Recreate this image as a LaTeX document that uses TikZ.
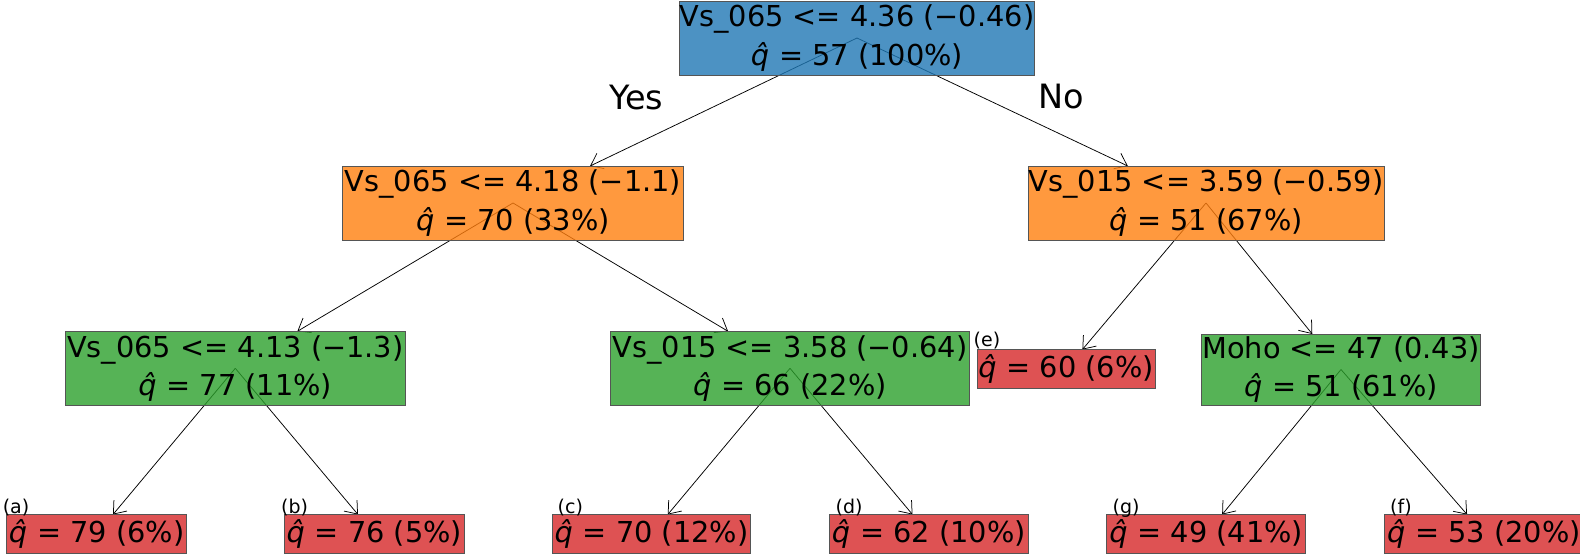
\documentclass[tikz,border=0pt]{standalone}
\usepackage{fontspec}
\setmainfont{DejaVu Sans}
\usetikzlibrary{arrows.meta}
\definecolor{cblue}{HTML}{1F77B4}
\definecolor{corange}{HTML}{FF7F0E}
\definecolor{cgreen}{HTML}{2CA02C}
\definecolor{cred}{HTML}{D62728}
\definecolor{cborder}{HTML}{555555}
\pgfdeclarelayer{bg}
\pgfsetlayers{bg,main}
\newcommand{\qh}{\textit{\^{q}}}
\tikzset{
  box/.style={draw=cborder, line width=0.9pt, fill opacity=0.8, text opacity=1,
    inner sep=0pt, outer sep=0pt, align=center,
    font=\fontsize{28.8}{38.4}\selectfont},
  split/.style={box, minimum height=74pt},
  leaf/.style={box, fill=cred, minimum height=39pt},
  edge/.style={-{Straight Barb[length=11pt,width=17pt]}, line width=0.75pt},
  lab/.style={anchor=base west, inner sep=0pt, font=\fontsize{19}{19}\selectfont},
  yesno/.style={anchor=base west, inner sep=0pt, font=\fontsize{33.5}{33.5}\selectfont}
}
\begin{document}
\begin{tikzpicture}[x=1pt,y=-1pt]
\useasboundingbox (0,0) rectangle (1580,558);
% split nodes
\node[split, fill=cblue, minimum width=351pt] (root) at (857,38) {Vs\_065 <= 4.36 (−0.46)\\\qh{} = 57 (100\%)};
\node[split, fill=corange, minimum width=341pt] (l1) at (513,203) {Vs\_065 <= 4.18 (−1.1)\\\qh{} = 70 (33\%)};
\node[split, fill=corange, minimum width=356pt] (r1) at (1206,203) {Vs\_015 <= 3.59 (−0.59)\\\qh{} = 51 (67\%)};
\node[split, fill=cgreen, minimum width=340pt] (l2) at (235.3,368.3) {Vs\_065 <= 4.13 (−1.3)\\\qh{} = 77 (11\%)};
\node[split, fill=cgreen, minimum width=359pt] (m2) at (790,368.3) {Vs\_015 <= 3.58 (−0.64)\\\qh{} = 66 (22\%)};
\node[box, fill=cgreen, minimum width=279pt, minimum height=71pt] (moho) at (1341,369.5) {Moho <= 47 (0.43)\\\qh{} = 51 (61\%)};
% leaves
\node[leaf, minimum width=178pt] (e) at (1066,369) {\qh{} = 60 (6\%)};
\node[leaf, minimum width=180pt] (a) at (96.7,534) {\qh{} = 79 (6\%)};
\node[leaf, minimum width=180pt] (b) at (374.3,534) {\qh{} = 76 (5\%)};
\node[leaf, minimum width=198.4pt] (c) at (651.5,534) {\qh{} = 70 (12\%)};
\node[leaf, minimum width=199pt] (d) at (928.8,534) {\qh{} = 62 (10\%)};
\node[leaf, minimum width=199pt] (g) at (1206.2,534) {\qh{} = 49 (41\%)};
\node[leaf, minimum width=199pt] (f) at (1484,534) {\qh{} = 53 (20\%)};
% leaf labels
\node[lab] (la) at (2.6,513) {(a)};
\node[lab] (lb) at (281,513) {(b)};
\node[lab] (lc) at (557.5,513) {(c)};
\node[lab] (ld) at (835.5,513) {(d)};
\node[lab] (le) at (973.5,346.7) {(e)};
\node[lab] (lg) at (1112.5,513) {(g)};
\node[lab] (lf) at (1390,513) {(f)};
% yes / no
\node[yesno] (yes) at (609,109) {Yes};
\node[yesno] (no) at (1038.5,108.5) {No};
% edges
\begin{pgfonlayer}{bg}
\draw[edge] (root.center) -- (l1);
\draw[edge] (root.center) -- (r1);
\draw[edge] (l1.center) -- (l2);
\draw[edge] (l1.center) -- (m2);
\draw[edge] (r1.center) -- (e);
\draw[edge] (r1.center) -- (moho);
\draw[edge] (l2.center) -- (a);
\draw[edge] (l2.center) -- (b);
\draw[edge] (m2.center) -- (c);
\draw[edge] (m2.center) -- (d);
\draw[edge] (moho.center) -- (g);
\draw[edge] (moho.center) -- (f);
\end{pgfonlayer}
\end{tikzpicture}
\end{document}
